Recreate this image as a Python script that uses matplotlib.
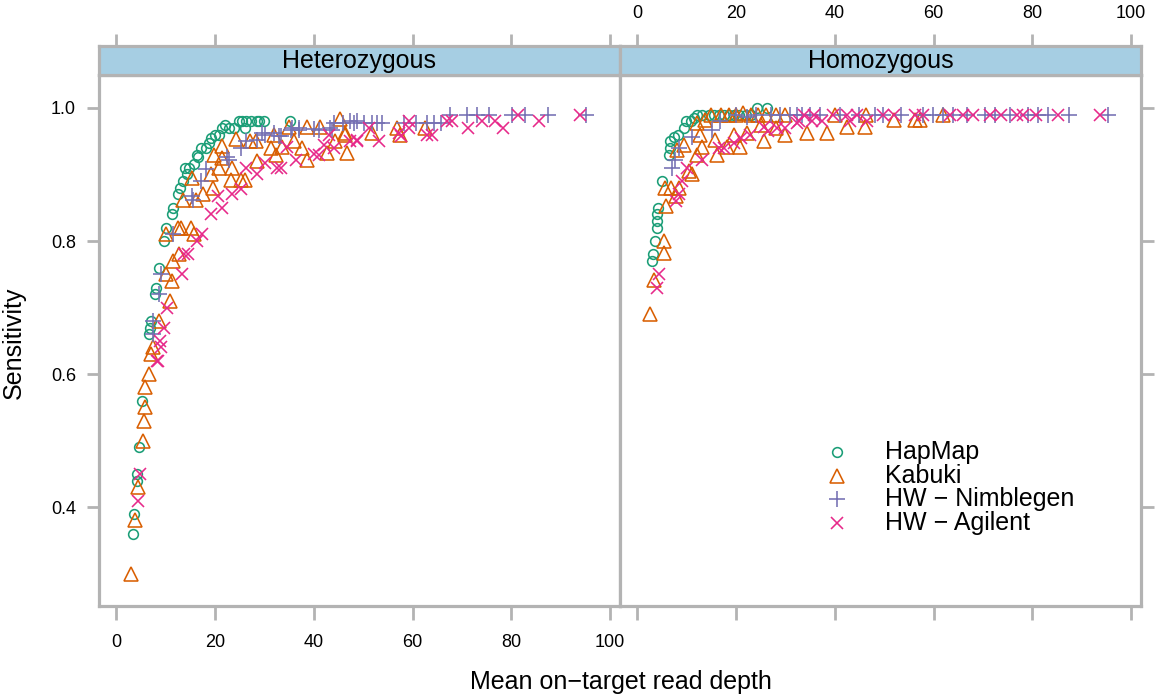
import matplotlib
matplotlib.use('Agg')
import matplotlib.pyplot as plt

plt.rcParams['font.family'] = ['Liberation Sans', 'DejaVu Sans']

# ---- data ----
het_hapmap_x = [3.4, 3.6, 4.1, 4.1, 4.5, 5.3, 6.7, 6.9, 7.0, 7.9, 8.0, 8.7, 9.7, 10.0, 11.2, 11.4,
                12.4, 12.9, 13.6, 14.4, 13.9, 14.7, 15.8, 16.6, 16.4, 17.1, 18.1, 18.8, 19.1, 19.9,
                20.8, 21.5, 22.0, 22.8, 23.8, 26.0, 24.8, 25.5, 26.2, 27.3, 28.5, 29.0, 30.0, 35.2]
het_hapmap_y = [0.36, 0.39, 0.44, 0.45, 0.49, 0.56, 0.66, 0.67, 0.68, 0.72, 0.73, 0.76, 0.80, 0.82, 0.84, 0.85,
                0.87, 0.88, 0.89, 0.90, 0.91, 0.91, 0.915, 0.926, 0.93, 0.94, 0.94, 0.947, 0.955, 0.96,
                0.96, 0.97, 0.975, 0.97, 0.97, 0.97, 0.98, 0.98, 0.98, 0.98, 0.98, 0.98, 0.98, 0.98]

het_kabuki_x = [3.0, 3.8, 4.3, 5.5, 5.7, 5.8, 5.8, 6.7, 7.0, 7.5, 8.7, 10.9, 11.2, 10.0, 11.4, 12.7,
                10.0, 12.4, 13.2, 15.1, 15.8, 13.6, 16.1, 15.4, 17.5, 19.5, 19.1, 20.8, 23.2, 23.5, 25.2,
                26.0, 21.5, 19.8, 21.5, 24.2, 27.0, 28.5, 28.2, 31.3, 32.3, 33.6, 37.6, 38.6, 36.0, 31.9,
                35.0, 38.6, 41.3, 45.4, 46.4, 46.7, 42.7, 44.2, 46.4, 51.8, 56.8, 57.5, 62.6]
het_kabuki_y = [0.30, 0.38, 0.43, 0.50, 0.53, 0.55, 0.58, 0.60, 0.63, 0.64, 0.68, 0.71, 0.74, 0.75, 0.77, 0.78,
                0.81, 0.82, 0.82, 0.82, 0.81, 0.862, 0.862, 0.894, 0.87, 0.88, 0.90, 0.91, 0.892, 0.91, 0.892,
                0.892, 0.925, 0.93, 0.943, 0.953, 0.95, 0.92, 0.95, 0.94, 0.93, 0.942, 0.94, 0.922, 0.95, 0.96,
                0.972, 0.972, 0.972, 0.983, 0.96, 0.932, 0.932, 0.95, 0.962, 0.962, 0.97, 0.96, 0.97]

het_nimble_x = [7.5, 7.5, 8.7, 9.0, 11.4, 15.3, 15.6, 17.1, 18.1, 22.5, 22.8, 25.2, 26.2, 28.5, 29.6,
                30.2, 31.9, 32.9, 33.3, 35.3, 35.6, 36.9, 37.0, 40.0, 41.0, 43.3, 43.7, 44.0, 46.0, 47.4,
                48.1, 48.8, 50.1, 51.8, 52.8, 53.9, 58.2, 60.6, 63.0, 64.3, 65.7, 67.6, 71.0, 73.0, 75.4,
                80.1, 82.8, 87.5, 95.2]
het_nimble_y = [0.66, 0.68, 0.72, 0.75, 0.81, 0.867, 0.862, 0.89, 0.908, 0.927, 0.922, 0.94, 0.95, 0.952, 0.962,
                0.96, 0.962, 0.958, 0.958, 0.967, 0.97, 0.967, 0.97, 0.968, 0.967, 0.97, 0.967, 0.977, 0.977, 0.98,
                0.978, 0.98, 0.978, 0.978, 0.978, 0.978, 0.978, 0.978, 0.978, 0.978, 0.978, 0.99, 0.99, 0.99, 0.99,
                0.99, 0.99, 0.99, 0.99]

het_agilent_x = [4.3, 4.8, 8.2, 8.4, 8.9, 9.0, 9.7, 10.2, 13.4, 13.7, 14.6, 16.4, 17.4, 19.1, 21.5, 20.5,
                 23.5, 25.2, 26.2, 28.5, 30.2, 32.6, 33.3, 36.3, 40.0, 41.0, 42.0, 43.0, 44.0, 34.6, 48.8,
                 47.4, 48.8, 51.1, 53.1, 57.2, 57.6, 59.2, 59.2, 62.9, 63.9, 66.9, 67.9, 71.3, 74.0, 76.7,
                 78.4, 81.4, 85.5, 93.9]
het_agilent_y = [0.41, 0.45, 0.62, 0.62, 0.65, 0.64, 0.67, 0.70, 0.75, 0.78, 0.78, 0.80, 0.81, 0.84, 0.85, 0.867,
                 0.87, 0.878, 0.91, 0.90, 0.917, 0.91, 0.91, 0.922, 0.931, 0.93, 0.945, 0.96, 0.94, 0.942, 0.952,
                 0.95, 0.95, 0.97, 0.95, 0.962, 0.958, 0.98, 0.97, 0.96, 0.96, 0.98, 0.98, 0.97, 0.98, 0.98,
                 0.97, 0.99, 0.98, 0.99]

hom_hapmap_x = [3.0, 3.2, 3.5, 3.9, 3.9, 3.9, 4.2, 5.1, 6.4, 6.6, 6.7, 7.4, 8.2, 9.4, 9.8, 10.8, 11.5,
                12.1, 13.2, 14.5, 15.5, 16.5, 17.5, 18.5, 19.5, 20.5, 22.0, 23.0, 24.2, 26.3]
hom_hapmap_y = [0.77, 0.78, 0.80, 0.82, 0.83, 0.84, 0.85, 0.89, 0.93, 0.94, 0.95, 0.957, 0.96, 0.97, 0.98, 0.98, 0.985,
                0.99, 0.99, 0.99, 0.99, 0.99, 0.99, 0.99, 0.99, 0.99, 0.99, 0.99, 1.0, 1.0]

hom_kabuki_x = [2.5, 3.4, 5.4, 5.4, 5.9, 5.7, 6.8, 8.4, 7.9, 11.1, 10.5, 8.1, 9.5, 12.1, 13.1, 12.8, 12.1,
                13.8, 15.8, 16.2, 18.2, 20.9, 19.5, 22.2, 25.6, 30.0, 34.3, 21.5, 15.0, 17.0, 18.5, 20.0,
                23.0, 24.5, 26.0, 28.0, 30.0, 38.4, 42.4, 46.1, 51.9, 56.2, 57.2, 62.0, 46.3, 40.0, 25.0, 28.0]
hom_kabuki_y = [0.69, 0.742, 0.782, 0.80, 0.852, 0.88, 0.88, 0.88, 0.867, 0.90, 0.905, 0.937, 0.945, 0.93, 0.942, 0.96, 0.978,
                0.982, 0.952, 0.93, 0.942, 0.942, 0.96, 0.962, 0.951, 0.96, 0.962, 0.992, 0.99, 0.99, 0.99, 0.99,
                0.99, 0.99, 0.99, 0.99, 0.99, 0.962, 0.972, 0.972, 0.982, 0.982, 0.982, 0.99, 0.99, 0.99, 0.975, 0.97]

hom_nimble_x = [7.1, 7.7, 8.4, 11.1, 15.2, 16.8, 22.2, 20.0, 24.0, 27.0, 29.0, 31.0, 32.3, 33.3, 35.0, 37.0,
                41.1, 44.8, 48.1, 49.8, 53.5, 57.9, 59.9, 61.9, 63.9, 66.7, 70.4, 72.4, 75.4, 79.1, 81.2,
                83.2, 87.5, 95.3]
hom_nimble_y = [0.91, 0.922, 0.94, 0.957, 0.967, 0.98, 0.987, 0.99, 0.99, 0.99, 0.99, 0.99, 0.99, 0.99, 0.99, 0.99,
                0.99, 0.99, 0.99, 0.99, 0.99, 0.99, 0.99, 0.99, 0.99, 0.99, 0.99, 0.99, 0.99, 0.99, 0.99,
                0.99, 0.99, 0.99]

hom_agilent_x = [4.0, 4.4, 7.9, 8.4, 9.1, 10.1, 13.1, 16.5, 17.5, 19.5, 21.0, 22.9, 25.6, 26.5, 28.3, 30.0,
                 32.3, 32.7, 35.4, 37.5, 43.1, 46.5, 33.7, 35.7, 39.7, 42.4, 44.4, 49.8, 51.9, 56.2, 57.9,
                 63.3, 66.0, 68.0, 71.4, 73.7, 76.8, 78.1, 80.8, 85.2, 93.6]
hom_agilent_y = [0.73, 0.75, 0.86, 0.87, 0.89, 0.91, 0.922, 0.94, 0.94, 0.947, 0.955, 0.96, 0.972, 0.965, 0.97, 0.97,
                 0.977, 0.98, 0.98, 0.98, 0.98, 0.98, 0.99, 0.99, 0.99, 0.99, 0.99, 0.99, 0.99, 0.99, 0.99,
                 0.99, 0.99, 0.99, 0.99, 0.99, 0.99, 0.99, 0.99, 0.99, 0.99]

panels = ['Heterozygous', 'Homozygous']
groups = ['HapMap', 'Kabuki', 'HW \u2212 Nimblegen', 'HW \u2212 Agilent']
x_ticks = [0, 20, 40, 60, 80, 100]
y_ticks = [0.4, 0.6, 0.8, 1.0]

data = {
    'Heterozygous': [(het_hapmap_x, het_hapmap_y), (het_kabuki_x, het_kabuki_y),
                     (het_nimble_x, het_nimble_y), (het_agilent_x, het_agilent_y)],
    'Homozygous': [(hom_hapmap_x, hom_hapmap_y), (hom_kabuki_x, hom_kabuki_y),
                   (hom_nimble_x, hom_nimble_y), (hom_agilent_x, hom_agilent_y)],
}

colors = ['#1B9E77', '#D95F02', '#7570B3', '#E7298A']
markers = ['o', '^', '+', 'x']
msizes = [7, 10, 12, 8]
grey = '#B3B3B3'

W, H = 1162, 698
fig = plt.figure(figsize=(W / 100, H / 100), dpi=100)

def fx(px):
    return px / W

def fy(py):
    return 1 - py / H

left_px = [99, 620]
panel_w = 521
top_px, bot_px, strip_top = 75, 606, 46

axes = []
for i, name in enumerate(panels):
    ax = fig.add_axes([fx(left_px[i]), fy(bot_px), panel_w / W, (bot_px - top_px) / H])
    st = fig.add_axes([fx(left_px[i]), fy(top_px), panel_w / W, (top_px - strip_top) / H], sharex=ax)
    for g in range(4):
        xs, ys = data[name][g]
        ax.plot(xs, ys, linestyle='none', marker=markers[g], ms=msizes[g],
                mfc='none', mec=colors[g], mew=1.15)
    ax.set_xlim(-3.5, 102)
    ax.set_ylim(0.2515, 1.0495)
    for a in (ax, st):
        for sp in a.spines.values():
            sp.set_color(grey)
            sp.set_linewidth(2.3)
    st.set_facecolor('#A6CEE3')
    st.text(0.5, 0.47, name, transform=st.transAxes, ha='center', va='center', fontsize=18)
    st.set_yticks([])

    ax.set_xticks(x_ticks)
    ax.set_yticks(y_ticks)
    ax.tick_params(colors=grey, labelcolor='black', direction='out', length=9, width=2,
                   labelsize=13, pad=7.5)
    st.tick_params(axis='x', colors=grey, labelcolor='black', direction='out', length=9, width=2,
                   labelsize=13, pad=8, top=True, bottom=False, labelbottom=False)
    if i == 0:
        ax.tick_params(axis='x', bottom=True, labelbottom=True, length=10, pad=10)
        ax.tick_params(axis='y', left=True, labelleft=True)
        st.tick_params(axis='x', labeltop=False)
    else:
        ax.tick_params(axis='x', bottom=True, labelbottom=False, length=10)
        ax.tick_params(axis='y', left=False, labelleft=False, right=True, labelright=False)
        st.tick_params(axis='x', labeltop=True)
    ax.set_yticklabels(['0.4', '0.6', '0.8', '1.0'])
    axes.append(ax)

# key
key_ax = axes[1]
key_y = [0.2895, 0.2444, 0.2011, 0.156]
for g in range(4):
    key_ax.plot([0.417], [key_y[g]], transform=key_ax.transAxes, linestyle='none',
                marker=markers[g], ms=msizes[g], mfc='none', mec=colors[g], mew=1.15)
    key_ax.text(0.508, key_y[g], groups[g], transform=key_ax.transAxes,
                ha='left', va='center', fontsize=18)

fig.text(fx(14), fy(343), 'Sensitivity', rotation=90, ha='center', va='center', fontsize=18)
fig.text(fx(621), fy(682), 'Mean on\u2212target read depth', ha='center', va='center', fontsize=18)

fig.savefig('out.png', dpi=100)
